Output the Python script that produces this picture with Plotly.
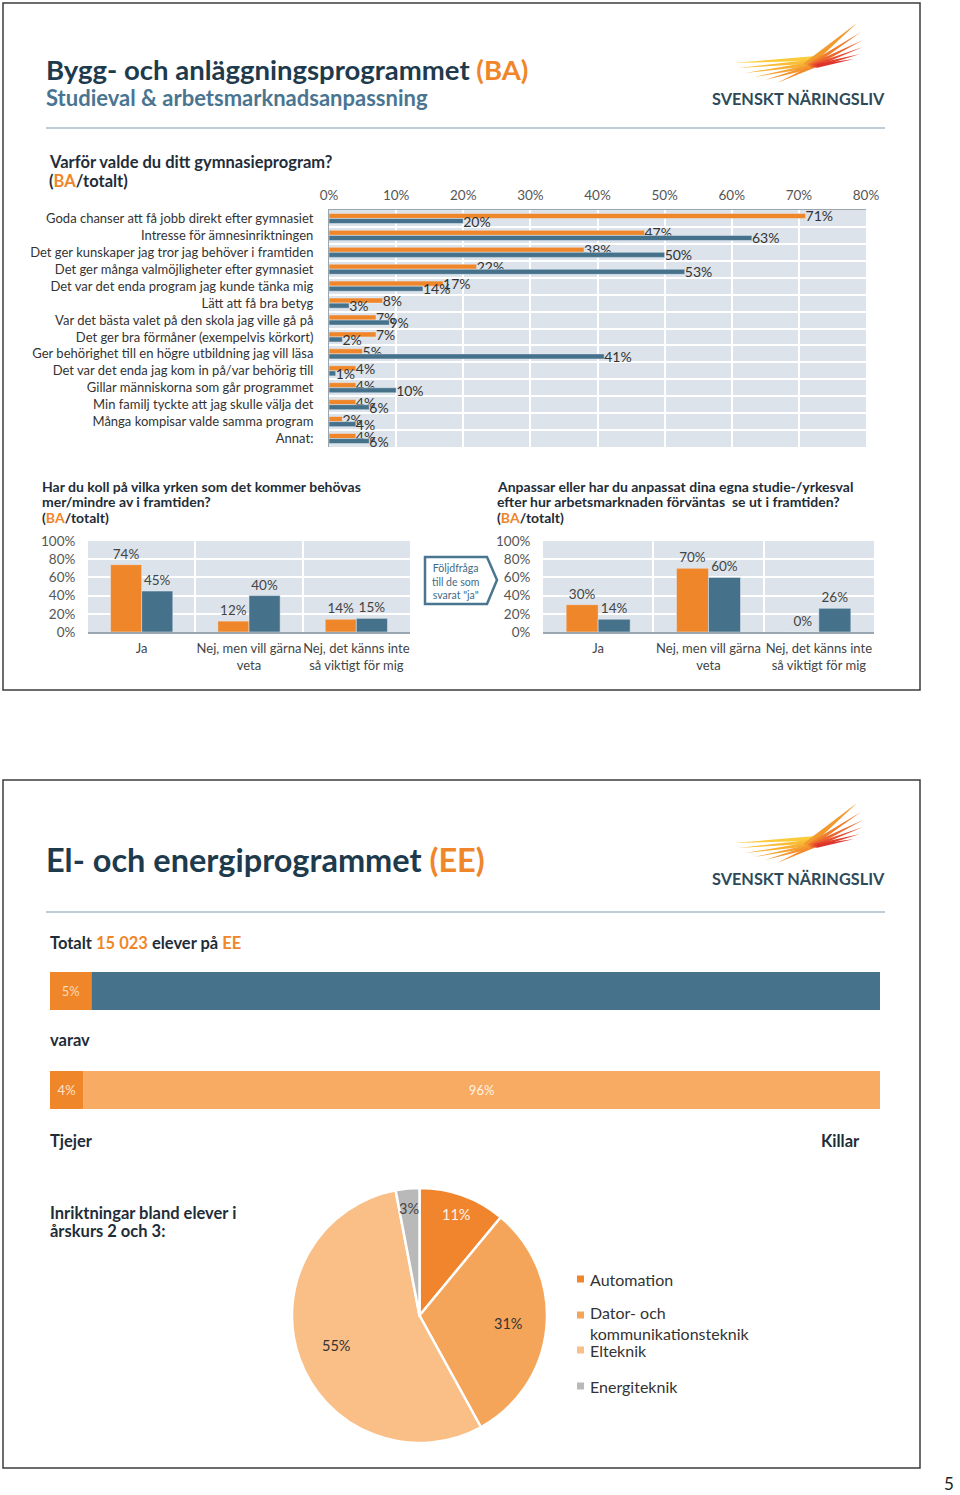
import math
import plotly.graph_objects as go

W, H = 960, 1495
def px(x): return x / W
def py(y): return 1 - y / H

# ---------------- data ----------------
reasons = [
    "Goda chanser att få jobb direkt efter gymnasiet",
    "Intresse för ämnesinriktningen",
    "Det ger kunskaper jag tror jag behöver i framtiden",
    "Det ger många valmöjligheter efter gymnasiet",
    "Det var det enda program jag kunde tänka mig",
    "Lätt att få bra betyg",
    "Var det bästa valet på den skola jag ville gå på",
    "Det ger bra förmåner (exempelvis körkort)",
    "Ger behörighet till en högre utbildning jag vill läsa",
    "Det var det enda jag kom in på/var behörig till",
    "Gillar människorna som går programmet",
    "Min familj tyckte att jag skulle välja det",
    "Många kompisar valde samma program",
    "Annat:",
]
reasons_ba = [71, 47, 38, 22, 17, 8, 7, 7, 5, 4, 4, 4, 2, 4]
reasons_tot = [20, 63, 50, 53, 14, 3, 9, 2, 41, 1, 10, 6, 4, 6]
top_ticks = [0, 10, 20, 30, 40, 50, 60, 70, 80]

answer_cats = ["Ja", "Nej, men vill gärna<br>veta", "Nej, det känns inte<br>så viktigt för mig"]
koll_ba = [74, 12, 14]
koll_tot = [45, 40, 15]
anpass_ba = [30, 70, 0]
anpass_tot = [14, 60, 26]
pct_ticks = [0, 20, 40, 60, 80, 100]

ee_share = [5, 95]      # EE share of all pupils
ee_gender = [4, 96]     # Tjejer, Killar

pie_labels = ["Automation", "Dator- och kommunikationsteknik", "Elteknik", "Energiteknik"]
pie_legend = ["Automation", "Dator- och<br>kommunikationsteknik", "Elteknik", "Energiteknik"]
pie_values = [11, 31, 55, 3]

# ---------------- styles ----------------
ORANGE = "#f0862a"
BLUE = "#46718a"
NAVY = "#1e3a4d"
STEEL = "#4a7591"
DARK = "#1f2d38"
FONT = "Lato"
pie_colors = ["#f0852d", "#f5a55a", "#f9bf87", "#b9b9b9"]
pie_text_colors = ["#fff4e8", "#333333", "#333333", "#444444"]

fig = go.Figure()

# ---- chart 1: reasons (horizontal grouped bars)
fig.add_trace(go.Bar(y=reasons, x=reasons_ba, orientation="h", offset=-0.3, width=0.3,
                     marker_color=ORANGE, text=[f"{v}%" for v in reasons_ba],
                     textposition="outside", cliponaxis=False, constraintext="none",
                     textfont=dict(size=14, color="#333"), xaxis="x", yaxis="y"))
fig.add_trace(go.Bar(y=reasons, x=reasons_tot, orientation="h", offset=0.0, width=0.3,
                     marker_color=BLUE, text=[f"{v}%" for v in reasons_tot],
                     textposition="outside", cliponaxis=False, constraintext="none",
                     textfont=dict(size=14, color="#333"), xaxis="x", yaxis="y"))

# ---- chart 2 & 3: vertical grouped bars
for xa, ya, ba, tot in [("x2", "y2", koll_ba, koll_tot), ("x3", "y3", anpass_ba, anpass_tot)]:
    fig.add_trace(go.Bar(x=answer_cats, y=ba, offset=-0.29, width=0.29, marker_color=ORANGE,
                         text=[f"{v}%" for v in ba], textposition="outside", cliponaxis=False,
                         constraintext="none", textfont=dict(size=13.5, color="#444"),
                         xaxis=xa, yaxis=ya))
    fig.add_trace(go.Bar(x=answer_cats, y=tot, offset=0.0, width=0.29, marker_color=BLUE,
                         text=[f"{v}%" for v in tot], textposition="outside", cliponaxis=False,
                         constraintext="none", textfont=dict(size=13.5, color="#444"),
                         xaxis=xa, yaxis=ya))

# ---- slide 2 stacked bars
fig.add_trace(go.Bar(y=[0], x=[ee_share[0]], base=[0], orientation="h", offset=-0.5, width=1,
                     marker=dict(color=ORANGE, line=dict(width=0)), text=[f"{ee_share[0]}%"],
                     textposition="inside", insidetextanchor="middle", constraintext="none",
                     textfont=dict(size=13, color="#fcd9b6"), xaxis="x4", yaxis="y4"))
fig.add_trace(go.Bar(y=[0], x=[ee_share[1]], base=[ee_share[0]], orientation="h", offset=-0.5, width=1,
                     marker=dict(color="#46738b", line=dict(width=0)), xaxis="x4", yaxis="y4"))
fig.add_trace(go.Bar(y=[0], x=[ee_gender[0]], base=[0], orientation="h", offset=-0.5, width=1,
                     marker=dict(color=ORANGE, line=dict(width=0)), text=[f"{ee_gender[0]}%"],
                     textposition="inside", insidetextanchor="middle", constraintext="none",
                     textfont=dict(size=13, color="#fde3c9"), xaxis="x5", yaxis="y5"))
fig.add_trace(go.Bar(y=[0], x=[ee_gender[1]], base=[ee_gender[0]], orientation="h", offset=-0.5, width=1,
                     marker=dict(color="#f8ab62", line=dict(width=0)), text=[f"{ee_gender[1]}%"],
                     textposition="inside", insidetextanchor="middle", constraintext="none",
                     textfont=dict(size=13, color="#fff3e4"), xaxis="x5", yaxis="y5"))

# ---- pie
PIE_X0, PIE_X1, PIE_Y0, PIE_Y1 = 292, 547, 1188, 1443
fig.add_trace(go.Pie(labels=pie_labels, values=pie_values, sort=False, direction="clockwise",
                     rotation=0, domain=dict(x=[px(PIE_X0), px(PIE_X1)], y=[py(PIE_Y1), py(PIE_Y0)]),
                     marker=dict(colors=pie_colors, line=dict(color="white", width=2.5)),
                     textinfo="none", showlegend=False, automargin=False))

GRID = "white"
AXL = "#9aa6b0"
transparent = "rgba(0,0,0,0)"
layout = dict(
    width=W, height=H, margin=dict(l=0, r=0, t=0, b=0, pad=0, autoexpand=False),
    paper_bgcolor="white", plot_bgcolor="#dce3ea",
    barmode="overlay", showlegend=False,
    font=dict(family=FONT, color="#333"),
    xaxis=dict(domain=[px(329), px(866)], anchor="y", side="top", range=[0, 80],
               tickvals=top_ticks, ticktext=[f"{v}%" for v in top_ticks],
               showgrid=True, gridcolor=GRID, gridwidth=2, zeroline=False,
               showline=True, linecolor=AXL, linewidth=1, automargin=False,
               ticks="outside", ticklen=4, tickcolor=transparent,
               tickfont=dict(size=13.5, color="#555"), fixedrange=True),
    yaxis=dict(domain=[py(447), py(210)], anchor="x", type="category", autorange="reversed",
               tickson="boundaries", showgrid=True, gridcolor=GRID, gridwidth=2,
               showline=True, linecolor=AXL, linewidth=1, automargin=False,
               ticks="", ticklabelstandoff=12,
               tickfont=dict(size=13, color="#333"), fixedrange=True),
)
for i, (x0, x1) in [(2, (88, 410)), (3, (543, 874))]:
    layout[f"xaxis{i}"] = dict(domain=[px(x0), px(x1)], anchor=f"y{i}", type="category",
                               tickson="boundaries", showgrid=True, gridcolor=GRID, gridwidth=2,
                               showline=True, linecolor=AXL, linewidth=1.5, automargin=False,
                               tickangle=0, ticks="", ticklabelstandoff=4,
                               tickfont=dict(size=13, color="#444"), fixedrange=True)
    layout[f"yaxis{i}"] = dict(domain=[py(632), py(541)], anchor=f"x{i}", range=[0, 100],
                               tickvals=pct_ticks, ticktext=[f"{v}%" for v in pct_ticks],
                               showgrid=True, gridcolor=GRID, gridwidth=1.5, zeroline=False,
                               automargin=False,
                               ticks="outside", ticklen=9, tickcolor=transparent,
                               tickfont=dict(size=13.5, color="#555"), fixedrange=True)
for i, (y0, y1) in [(4, (972, 1010)), (5, (1071, 1109))]:
    layout[f"xaxis{i}"] = dict(domain=[px(50), px(880)], anchor=f"y{i}", range=[0, 100],
                               visible=False, automargin=False)
    layout[f"yaxis{i}"] = dict(domain=[py(y1), py(y0)], anchor=f"x{i}", range=[-0.5, 0.5],
                               visible=False, automargin=False)
fig.update_layout(**layout)

# ---------------- shapes ----------------
shapes = []
def rect_px(x0, y0, x1, y1, color, width):
    return dict(type="rect", xref="paper", yref="paper", x0=px(x0), x1=px(x1), y0=py(y1), y1=py(y0),
                line=dict(color=color, width=width), fillcolor="rgba(0,0,0,0)")
def line_px(x0, y0, x1, y1, color, width):
    return dict(type="line", xref="paper", yref="paper", x0=px(x0), x1=px(x1), y0=py(y0), y1=py(y1),
                line=dict(color=color, width=width))
def poly_px(pts, fill=None, color=None, width=0):
    path = "M " + " L ".join(f"{px(a):.5f},{py(b):.5f}" for a, b in pts) + " Z"
    d = dict(type="path", path=path, xref="paper", yref="paper",
             line=dict(color=color or "rgba(0,0,0,0)", width=width))
    d["fillcolor"] = fill if fill else "rgba(0,0,0,0)"
    return d

# slide frames
shapes.append(rect_px(3, 3, 920, 690, "#3c3c3c", 1.5))
shapes.append(rect_px(3, 780, 920, 1468, "#3c3c3c", 1.5))
# rules under titles
shapes.append(line_px(46, 128, 885, 128, "#a9bccb", 1.5))
shapes.append(line_px(46, 912, 885, 912, "#a9bccb", 1.5))
# follow-up arrow box
shapes.append(poly_px([(425, 557), (487, 557), (497, 580), (487, 604), (425, 604)], color=STEEL, width=2.5))

# logo feathers
left_f = [((33, 53), (122, 48), 5, "#fbcb3b"), ((38, 58), (120, 51), 4.5, "#f9bd37"),
          ((45, 63), (118, 53), 4.5, "#f7af34"), ((54, 67), (116, 55), 4, "#f6a131"),
          ((65, 70), (114, 56), 4, "#f4952f"), ((77, 73), (112, 57), 3.5, "#f28a2e")]
right_f = [((157, 13), (106, 56), 7, "#f39a2f"), ((161, 22), (109, 56), 5, "#f07e2d"),
           ((163, 30), (111, 56), 4.5, "#ec662e"), ((163, 37), (113, 56), 4, "#e8502f"),
           ((160, 44), (115, 56), 4, "#e3412f"), ((154, 49), (117, 56), 3.5, "#dd342e")]
def feather(tip, root, w, color, ox, oy):
    (x1, y1), (x2, y2) = tip, root
    dx, dy = x2 - x1, y2 - y1
    L = math.hypot(dx, dy)
    nx, ny = -dy / L * w / 2, dx / L * w / 2
    pts = [(ox + x1, oy + y1), (ox + x2 + nx, oy + y2 + ny), (ox + x2 - nx, oy + y2 - ny)]
    return poly_px(pts, fill=color)
for oy in (10, 790):
    for f in left_f + right_f:
        shapes.append(feather(*f, 700, oy))

# pie legend squares
legend_y = [1279, 1315, 1350, 1386]
for c, yy in zip(pie_colors, legend_y):
    shapes.append(dict(type="rect", xref="paper", yref="paper", x0=px(577), x1=px(584),
                       y0=py(yy + 3.5), y1=py(yy - 3.5), fillcolor=c, line=dict(width=0)))
fig.update_layout(shapes=shapes)

# ---------------- texts ----------------
ann = []
def T(x, y, text, size, color=DARK, bold=False, anchor="left", family=FONT):
    t = f"<b>{text}</b>" if bold else text
    ann.append(dict(x=px(x), y=py(y), xref="paper", yref="paper", text=t, showarrow=False,
                    xanchor=anchor, yanchor="middle", align=anchor if anchor != "center" else "center",
                    font=dict(size=size, color=color, family=family)))
def O(s): return f'<span style="color:{ORANGE}">{s}</span>'

T(44, 70, f"Bygg- och anläggningsprogrammet {O('(BA)')}", 27.5, NAVY, True)
T(44, 97, "Studieval & arbetsmarknadsanpassning", 22, STEEL, True)
T(47, 162, "Varför valde du ditt gymnasieprogram?", 16.5, DARK, True)
T(47, 181, f"({O('BA')}/totalt)", 16.5, DARK, True)

T(40, 486, "Har du koll på vilka yrken som det kommer behövas", 14, DARK, True)
T(40, 501, "mer/mindre av i framtiden?", 14, DARK, True)
T(40, 517, f"({O('BA')}/totalt)", 14, DARK, True)
T(495, 486, "Anpassar eller har du anpassat dina egna studie-/yrkesval", 14, DARK, True)
T(495, 501, "efter hur arbetsmarknaden förväntas  se ut i framtiden?", 14, DARK, True)
T(495, 517, f"({O('BA')}/totalt)", 14, DARK, True)
T(455, 581, "Följdfråga<br>till de som<br>svarat \"ja\"", 10.5, "#3f6b86", False, "center")

for oy in (10, 790):
    T(798, oy + 88, "SVENSKT NÄRINGSLIV", 16.3, "#2e4a5a", True, "center")

T(44, 860, f"El- och energiprogrammet {O('(EE)')}", 32.5, NAVY, True)
T(48, 943, f"Totalt {O('15 023')} elever på {O('EE')}", 16.5, DARK, True)
T(48, 1040, "varav", 16.5, DARK, True)
T(48, 1141, "Tjejer", 16.5, DARK, True)
T(862, 1141, "Killar", 16.5, DARK, True, "right")
T(48, 1213, "Inriktningar bland elever i", 16.5, DARK, True)
T(48, 1231, "årskurs 2 och 3:", 16.5, DARK, True)

# pie slice labels, placed at each slice's mid-angle (derived from the values)
cx, cy = (PIE_X0 + PIE_X1) / 2, (PIE_Y0 + PIE_Y1) / 2
R = (PIE_X1 - PIE_X0) / 2
tot = sum(pie_values)
cum = 0
for v, col in zip(pie_values, pie_text_colors):
    mid = (cum + v / 2) / tot * 2 * math.pi
    cum += v
    rf = 0.84 if v < 15 else 0.70
    T(cx + rf * R * math.sin(mid), cy - rf * R * math.cos(mid), f"{v}%", 14.5, col, False, "center")

leg_text_y = [1279, 1323, 1350, 1386]
for lab, yy in zip(pie_legend, leg_text_y):
    T(588, yy, lab, 16, "#333")
T(949, 1483, "5", 17, "#222", False, "center")
fig.update_layout(annotations=ann)

fig.write_html("out.html", config={"displayModeBar": False},
               post_script="document.body.style.margin='0px';document.body.style.overflow='hidden';")
